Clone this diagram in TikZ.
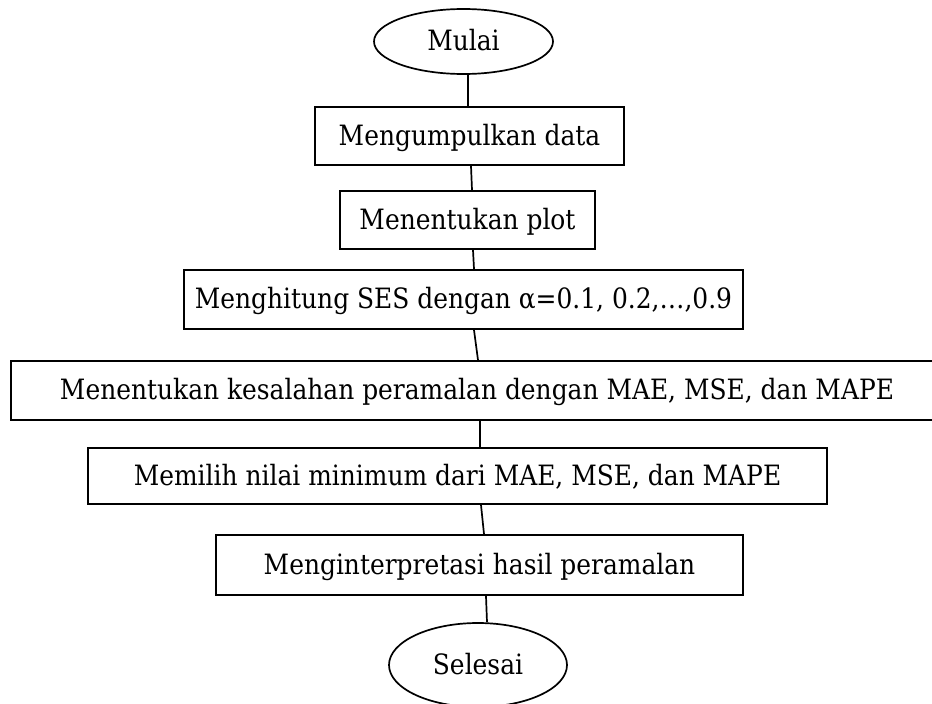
\documentclass[tikz,border=0pt]{standalone}
\usepackage{fontspec}
\setmainfont{DejaVu Serif}[FakeStretch=0.89]
\usetikzlibrary{shapes.geometric}
\begin{document}
\begin{tikzpicture}[x=1pt,y=-1pt,
  box/.style={draw,line width=2pt,inner sep=0pt,text height=22pt,text depth=4pt,font=\fontsize{28}{31}\selectfont},
  oval/.style={draw,ellipse,line width=1.7pt,inner sep=0pt,text height=22pt,text depth=4pt,font=\fontsize{28}{31}\selectfont},
  link/.style={line width=1.7pt}]
\useasboundingbox (0,0) rectangle (932,704);
\node[oval,minimum width=179pt,minimum height=65pt] (mulai) at (463.5,41.5) {Mulai};
\node[box,minimum width=309pt,minimum height=58pt] (b1) at (469.5,136) {Mengumpulkan data};
\node[box,minimum width=255pt,minimum height=58pt] (b2) at (467.5,220) {Menentukan plot};
\node[box,minimum width=559pt,minimum height=59pt] (b3) at (463.5,299.5) {Menghitung SES dengan α=0.1, 0.2,…,0.9};
\node[box,minimum width=932pt,minimum height=59pt] (b4) at (477,390.5) {Menentukan kesalahan peramalan dengan MAE, MSE, dan MAPE};
\node[box,minimum width=739pt,minimum height=56pt] (b5) at (457.5,476) {Memilih nilai minimum dari MAE, MSE, dan MAPE};
\node[box,minimum width=527pt,minimum height=60pt] (b6) at (479.5,565) {Menginterpretasi hasil peramalan};
\node[oval,minimum width=178pt,minimum height=84pt] (selesai) at (478,665) {Selesai};
\draw[link] ([xshift=4.5pt]mulai.south) -- ([xshift=-1.5pt]b1.north);
\draw[link] ([xshift=1.5pt]b1.south) -- ([xshift=4.5pt]b2.north);
\draw[link] ([xshift=5.5pt]b2.south) -- ([xshift=10.5pt]b3.north);
\draw[link] ([xshift=10.5pt]b3.south) -- ([xshift=1pt]b4.north);
\draw[link] ([xshift=3pt]b4.south) -- ([xshift=22.5pt]b5.north);
\draw[link] ([xshift=23.5pt]b5.south) -- ([xshift=4.5pt]b6.north);
\draw[link] ([xshift=6.5pt]b6.south) -- ([xshift=9pt]selesai.north);
\end{tikzpicture}
\end{document}
